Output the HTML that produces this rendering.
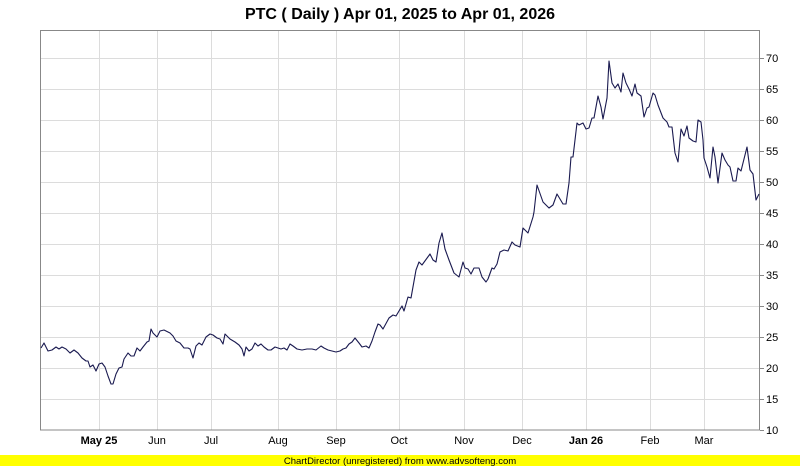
<!DOCTYPE html>
<html><head><meta charset="utf-8"><style>
html,body{margin:0;padding:0;background:#fff;}
svg{display:block;font-family:"Liberation Sans",Arial,sans-serif;}
</style></head><body>
<svg width="800" height="466" viewBox="0 0 800 466" xmlns="http://www.w3.org/2000/svg">
<rect width="800" height="466" fill="#fff"/>
<text x="400" y="19" text-anchor="middle" font-size="16" font-weight="bold" fill="#000">PTC ( Daily ) Apr 01, 2025 to Apr 01, 2026</text>
<g stroke="#dcdcdc" stroke-width="1">
<line x1="40" x2="760" y1="58.5" y2="58.5"/><line x1="40" x2="760" y1="89.5" y2="89.5"/>
<line x1="40" x2="760" y1="120.5" y2="120.5"/><line x1="40" x2="760" y1="151.5" y2="151.5"/>
<line x1="40" x2="760" y1="182.5" y2="182.5"/><line x1="40" x2="760" y1="213.5" y2="213.5"/>
<line x1="40" x2="760" y1="244.5" y2="244.5"/><line x1="40" x2="760" y1="275.5" y2="275.5"/>
<line x1="40" x2="760" y1="306.5" y2="306.5"/><line x1="40" x2="760" y1="337.5" y2="337.5"/>
<line x1="40" x2="760" y1="368.5" y2="368.5"/><line x1="40" x2="760" y1="399.5" y2="399.5"/>
<line y1="30" y2="430" x1="99.5" x2="99.5"/><line y1="30" y2="430" x1="157.5" x2="157.5"/>
<line y1="30" y2="430" x1="211.5" x2="211.5"/><line y1="30" y2="430" x1="278.5" x2="278.5"/>
<line y1="30" y2="430" x1="336.5" x2="336.5"/><line y1="30" y2="430" x1="399.5" x2="399.5"/>
<line y1="30" y2="430" x1="464.5" x2="464.5"/><line y1="30" y2="430" x1="522.5" x2="522.5"/>
<line y1="30" y2="430" x1="586.5" x2="586.5"/><line y1="30" y2="430" x1="650.5" x2="650.5"/>
<line y1="30" y2="430" x1="704.5" x2="704.5"/>
</g>
<rect x="40.5" y="30.5" width="719" height="399.5" fill="none" stroke="#888" stroke-width="1"/>
<g stroke="#888"><line x1="760" x2="764" y1="58.5" y2="58.5"/><line x1="760" x2="764" y1="89.5" y2="89.5"/><line x1="760" x2="764" y1="120.5" y2="120.5"/><line x1="760" x2="764" y1="151.5" y2="151.5"/><line x1="760" x2="764" y1="182.5" y2="182.5"/><line x1="760" x2="764" y1="213.5" y2="213.5"/><line x1="760" x2="764" y1="244.5" y2="244.5"/><line x1="760" x2="764" y1="275.5" y2="275.5"/><line x1="760" x2="764" y1="306.5" y2="306.5"/><line x1="760" x2="764" y1="337.5" y2="337.5"/><line x1="760" x2="764" y1="368.5" y2="368.5"/><line x1="760" x2="764" y1="399.5" y2="399.5"/><line x1="760" x2="764" y1="430.5" y2="430.5"/></g>
<g font-size="11" fill="#000">
<text x="766" y="62">70</text><text x="766" y="93">65</text><text x="766" y="124">60</text><text x="766" y="155">55</text><text x="766" y="186">50</text><text x="766" y="217">45</text><text x="766" y="248">40</text><text x="766" y="279">35</text><text x="766" y="310">30</text><text x="766" y="341">25</text><text x="766" y="372">20</text><text x="766" y="403">15</text><text x="766" y="434">10</text>
</g>
<g font-size="11" fill="#000" text-anchor="middle">
<text x="99" y="444" font-weight="bold">May 25</text><text x="157" y="444">Jun</text><text x="211" y="444">Jul</text><text x="278" y="444">Aug</text><text x="336" y="444">Sep</text><text x="399" y="444">Oct</text><text x="464" y="444">Nov</text><text x="522" y="444">Dec</text><text x="586" y="444" font-weight="bold">Jan 26</text><text x="650" y="444">Feb</text><text x="704" y="444">Mar</text>
</g>
<polyline fill="none" stroke="#1a1a50" stroke-width="1.1" stroke-linejoin="round" points="41,348 44,343 48,351 52,350 56,347 59,349 62,347 66,349 70,353 74,350 78,353 82,358 86,361 88,361 90,367 93,365 96,371 99,364 102,363 105,367 108,376 111,384 113,384 116,374 119,368 122,367 124,359 128,353 131,356 134,356 137,348 140,351 143,347 147,342 149,341 151,329 153,333 157,337 160,331 164,330 170,333 173,336 176,341 180,343 184,348 188,348 190,349 193,358 196,346 199,343 202,345 206,337 210,334 213,335 217,338 220,339 223,344 225,334 230,339 235,342 239,345 242,349 244,356 246,347 249,351 252,349 255,343 258,346 261,344 264,347 268,350 271,350 275,347 278,348 281,349 284,348 287,350 290,344 293,346 297,349 302,350 307,349 312,349 316,350 321,346 324,348 328,350 332,351 336,352 340,351 343,349 346,348 349,344 352,342 355,338 359,343 362,347 366,346 369,348 372,341 375,332 378,324 380,325 383,329 389,318 393,315 396,316 402,306 404,311 408,297 411,298 416,270 419,262 422,265 430,254 433,260 436,262 439,243 442,233 445,249 449,260 454,273 459,277 463,262 465,268 468,269 471,274 474,268 479,268 482,277 486,282 488,279 492,268 494,269 497,264 500,252 504,250 508,251 512,242 515,245 520,247 523,228 526,231 528,233 533,217 534,212 537,185 543,202 549,208 553,205 557,194 563,204 566,204 569,183 571,157 573,157 577,123 579,125 583,123 586,129 589,128 592,118 594,118 598,96 601,107 603,119 607,98 609,61 612,83 615,88 618,84 621,92 623,73 626,83 629,89 632,96 635,84 637,93 641,96 644,117 647,108 649,107 653,93 655,95 658,105 663,118 667,122 669,127 672,127 675,153 678,162 681,129 684,136 687,126 689,138 693,141 696,142 698,120 701,122 703,140 704,158 707,167 710,178 713,147 715,157 718,183 722,153 725,160 728,165 730,167 733,181 736,181 738,168 741,171 747,147 750,170 753,174 756,200 759,194"/>
<rect x="0" y="455" width="800" height="11" fill="#ffff00"/>
<text x="400" y="464" text-anchor="middle" font-size="9.5" fill="#000">ChartDirector (unregistered) from www.advsofteng.com</text>
</svg>
</body></html>
